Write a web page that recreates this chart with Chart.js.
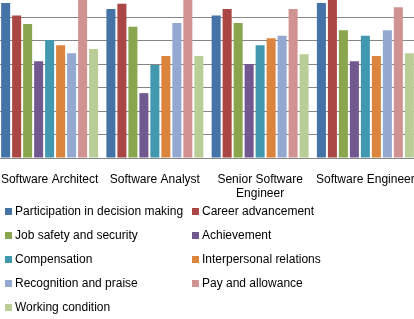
<!DOCTYPE html>
<html>
<head>
<meta charset="utf-8">
<script src="https://cdn.jsdelivr.net/npm/chart.js@4/dist/chart.umd.min.js"></script>
<style>
  html, body { margin: 0; padding: 0; background: #fff; }
  body { width: 414px; height: 319px; overflow: hidden; position: relative; font-family: "Liberation Sans", Arial, sans-serif; }
  #c { position: absolute; left: -3px; top: -30px; }
  .lg { position: absolute; font-size: 12px; line-height: 14px; color: #000; white-space: nowrap; z-index: 2; }
  .lg i { position: absolute; width: 7px; height: 7px; top: 4px; }
</style>
</head>
<body>
<canvas id="c" width="421" height="238"></canvas>
<div id="legend"></div>
<script>
const categories = ["Software Architect", "Software Analyst", ["Senior Software", "Engineer"], "Software Engineer"];
const seriesNames = [
  "Participation in decision making", "Career advancement",
  "Job safety and security", "Achievement",
  "Compensation", "Interpersonal relations",
  "Recognition and praise", "Pay and allowance",
  "Working condition"
];
const participation = [3.30, 3.17, 3.03, 3.30];
const career        = [3.03, 3.28, 3.17, 3.45];
const jobSafety     = [2.85, 2.79, 2.87, 2.72];
const achievement   = [2.06, 1.38, 2.00, 2.06];
const compensation  = [2.51, 1.98, 2.40, 2.60];
const interpersonal = [2.40, 2.17, 2.55, 2.17];
const recognition   = [2.23, 2.87, 2.60, 2.72];
const payAllowance  = [3.48, 3.50, 3.17, 3.21];
const workingCond   = [2.32, 2.17, 2.21, 2.23];
const seriesValues = [participation, career, jobSafety, achievement, compensation, interpersonal, recognition, payAllowance, workingCond];
const colors = ["#4572A7", "#AA4643", "#89A54E", "#71588F", "#4198AF", "#DB843D", "#93A9CF", "#D19392", "#B9CD96"];

new Chart(document.getElementById("c"), {
  type: "bar",
  data: {
    labels: categories,
    datasets: seriesNames.map((n, i) => ({
      label: n, data: seriesValues[i], backgroundColor: colors[i], borderWidth: 0,
      categoryPercentage: 0.94, barPercentage: 0.82
    }))
  },
  options: {
    responsive: false, animation: false, devicePixelRatio: 1,
    layout: { padding: 0 },
    plugins: { legend: { display: false }, tooltip: { enabled: false } },
    scales: {
      x: {
        grid: { display: false, drawTicks: true, tickLength: 14 },
        border: { display: true, color: "#868686", width: 1 },
        ticks: { color: "#000", font: { family: "Liberation Sans", size: 12 }, padding: 0, maxRotation: 0, autoSkip: false },
        afterFit: s => { s.height = 50; }
      },
      y: {
        min: 0, max: 4,
        ticks: { display: false, stepSize: 0.5 },
        grid: { color: "#868686", lineWidth: 1, drawTicks: false },
        border: { display: false },
        afterFit: s => { s.width = 0; }
      }
    }
  }
});

const lg = document.getElementById("legend");
seriesNames.forEach((n, i) => {
  const d = document.createElement("div");
  d.className = "lg";
  const col = i % 2, row = Math.floor(i / 2);
  d.style.left = (col ? 192 : 5) + "px";
  d.style.top = (204 + row * 24) + "px";
  d.style.paddingLeft = "10px";
  const b = document.createElement("i");
  b.style.left = "0px";
  b.style.background = colors[i];
  d.appendChild(b);
  d.appendChild(document.createTextNode(n));
  lg.appendChild(d);
});
</script>
</body>
</html>
